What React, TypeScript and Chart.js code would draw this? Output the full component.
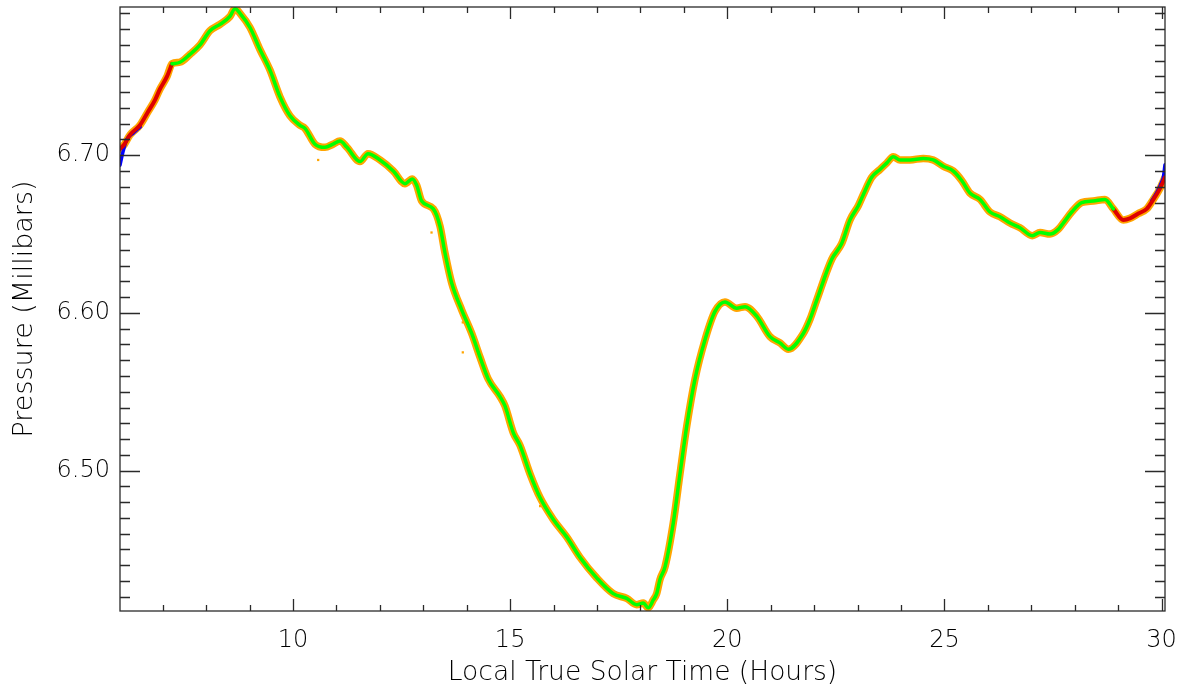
import React, { useEffect, useRef } from "react";
import { Chart, registerables } from "chart.js";

Chart.register(...registerables);

// ---- Data ----
const hours = [
  6.017, 6.12, 6.25, 6.475, 6.65, 6.822, 6.938, 7.1, 7.214, 7.398, 7.628, 7.859, 8.089, 8.319,
  8.549, 8.664, 8.78, 9.01, 9.24, 9.47, 9.701, 9.931, 10.161, 10.276, 10.507, 10.737, 10.921,
  11.082, 11.243, 11.543, 11.727, 12.003, 12.31, 12.579, 12.747, 12.848, 12.963, 13.231, 13.385,
  13.5, 13.654, 13.884, 14.115, 14.306, 14.497, 14.766, 14.881, 15.073, 15.227, 15.457, 15.687,
  15.994, 16.302, 16.608, 16.993, 17.375, 17.684, 17.914, 18.066, 18.181, 18.296, 18.374, 18.45,
  18.566, 18.757, 18.911, 19.065, 19.256, 19.487, 19.717, 19.947, 20.216, 20.408, 20.677, 20.983,
  21.213, 21.405, 21.75, 21.904, 22.058, 22.404, 22.634, 22.825, 23.016, 23.131, 23.325, 23.516,
  23.67, 23.822, 23.977, 24.207, 24.513, 24.743, 24.974, 25.204, 25.397, 25.588, 25.819, 26.049,
  26.279, 26.509, 26.74, 27.023, 27.2, 27.43, 27.621, 27.736, 27.93, 28.16, 28.427, 28.696,
  28.887, 29.118, 29.272, 29.464, 29.657, 29.81, 29.964, 30.078,
];
const pressure = [
  6.704, 6.707, 6.713, 6.719, 6.727, 6.735, 6.742, 6.75, 6.758, 6.759, 6.764, 6.77, 6.779, 6.783,
  6.788, 6.793, 6.79, 6.781, 6.767, 6.754, 6.737, 6.725, 6.719, 6.717, 6.707, 6.705, 6.707,
  6.709, 6.705, 6.696, 6.701, 6.697, 6.69, 6.682, 6.685, 6.681, 6.671, 6.666, 6.655,
  6.638, 6.619, 6.602, 6.587, 6.572, 6.558, 6.547, 6.541, 6.524, 6.516, 6.498, 6.483,
  6.469, 6.458, 6.445, 6.432, 6.422, 6.419, 6.415, 6.416, 6.413, 6.418, 6.422, 6.431,
  6.439, 6.467, 6.498, 6.528, 6.558, 6.583, 6.601, 6.607, 6.603, 6.604, 6.598, 6.585,
  6.581, 6.577, 6.587, 6.596, 6.608, 6.634, 6.644, 6.659, 6.668, 6.675, 6.686, 6.691,
  6.695, 6.699, 6.697, 6.697, 6.698, 6.697, 6.693, 6.69, 6.684, 6.676, 6.672, 6.664,
  6.661, 6.657, 6.654, 6.649, 6.651, 6.65, 6.653, 6.657, 6.664, 6.67, 6.671, 6.672,
  6.666, 6.659, 6.66, 6.663, 6.666, 6.672, 6.679, 6.686,
];
// Hours where the red (edge) portions hand over to the green trace
const greenStartHour = 7.214;
const greenEndHour = 28.887;

// Blue trace at both ends
const blueStartHours = [6.017, 6.08, 6.17, 6.32, 6.48];
const blueStartValues = [6.6937, 6.7015, 6.71, 6.714, 6.718];
const blueEndHours = [29.77, 29.9, 30.0, 30.04, 30.078];
const blueEndValues = [6.671, 6.677, 6.683, 6.686, 6.694];

// Scattered orange outliers
const outlierHours = [10.58, 13.19, 13.91, 13.91, 15.69, 12.18];
const outlierValues = [6.697, 6.651, 6.594, 6.575, 6.4775, 6.6935];

// Axes
const xMin = 6.017;
const xMax = 30.078;
const yMin = 6.411;
const yMax = 6.794;
const xMajorTicks = [10, 15, 20, 25, 30];
const xMinorTicks = [7, 8, 9, 11, 12, 13, 14, 16, 17, 18, 19, 21, 22, 23, 24, 26, 27, 28, 29];
const yMajorTicks = [6.5, 6.6, 6.7];
const yMinorTicks = [
  6.42, 6.43, 6.44, 6.45, 6.46, 6.47, 6.48, 6.49, 6.51, 6.52, 6.53, 6.54, 6.55, 6.56, 6.57,
  6.58, 6.59, 6.61, 6.62, 6.63, 6.64, 6.65, 6.66, 6.67, 6.68, 6.69, 6.71, 6.72, 6.73, 6.74,
  6.75, 6.76, 6.77, 6.78, 6.79,
];

const xTitle = "Local True Solar Time (Hours)";
const yTitle = "Pressure (Millibars)";

const FONT_FAMILY = "'DejaVu Sans', sans-serif";

const pts = (xs: number[], ys: number[]) => xs.map((x, i) => ({ x, y: ys[i] }));

const framePlugin = {
  id: "frameTicks",
  afterDraw(chart: any) {
    const { ctx, chartArea } = chart;
    const { left, right, top, bottom } = chartArea;
    const xs = chart.scales.x;
    const ys = chart.scales.y;
    ctx.save();
    ctx.strokeStyle = "#2a2a2a";
    ctx.lineWidth = 1.3;
    ctx.strokeRect(left, top, right - left, bottom - top);
    ctx.beginPath();
    const xt = (v: number, len: number) => {
      const p = Math.round(xs.getPixelForValue(v)) + 0.5;
      ctx.moveTo(p, bottom);
      ctx.lineTo(p, bottom - len);
      ctx.moveTo(p, top);
      ctx.lineTo(p, top + len);
    };
    const yt = (v: number, len: number) => {
      const p = Math.round(ys.getPixelForValue(v)) + 0.5;
      ctx.moveTo(left, p);
      ctx.lineTo(left + len, p);
      ctx.moveTo(right, p);
      ctx.lineTo(right - len, p);
    };
    xMajorTicks.forEach((v) => xt(v, 12));
    xMinorTicks.forEach((v) => xt(v, 6));
    yMajorTicks.forEach((v) => yt(v, 20));
    yMinorTicks.forEach((v) => yt(v, 10));
    ctx.stroke();
    ctx.restore();
  },
};

export default function App() {
  const canvasRef = useRef<HTMLCanvasElement | null>(null);

  useEffect(() => {
    if (!canvasRef.current) return;
    const all = pts(hours, pressure);
    const green = all.filter((p) => p.x >= greenStartHour && p.x <= greenEndHour);
    const redStart = all.filter((p) => p.x <= greenStartHour);
    const redEnd = all.filter((p) => p.x >= greenEndHour);
    const lineBase = {
      pointRadius: 0,
      fill: false,
      cubicInterpolationMode: "monotone" as const,
      borderJoinStyle: "round" as const,
      borderCapStyle: "round" as const,
    };
    const tickFont = { family: FONT_FAMILY, size: 24, weight: 200 as any };
    const xTitleFont = { family: FONT_FAMILY, size: 26.5, weight: 200 as any };
    const yTitleFont = { family: FONT_FAMILY, size: 27, weight: 200 as any };

    const chart = new Chart(canvasRef.current, {
      type: "line",
      data: {
        datasets: [
          { ...lineBase, label: "band", data: all, borderColor: "#FFA500", borderWidth: 7.5, order: 10 },
          {
            label: "outliers",
            data: pts(outlierHours, outlierValues),
            showLine: false,
            pointRadius: 1.6,
            pointStyle: "rect",
            pointBorderWidth: 0,
            backgroundColor: "#FFA500",
            borderColor: "#FFA500",
            order: 9,
          },
          { ...lineBase, label: "blue1", data: pts(blueStartHours, blueStartValues), borderColor: "#0000FF", borderWidth: 3.5, order: 4 },
          { ...lineBase, label: "blue2", data: pts(blueEndHours, blueEndValues), borderColor: "#0000FF", borderWidth: 3.5, order: 4 },
          { ...lineBase, label: "red1", data: redStart, borderColor: "#DD0000", borderWidth: 4, order: 2 },
          { ...lineBase, label: "red2", data: redEnd, borderColor: "#DD0000", borderWidth: 4, order: 2 },
          { ...lineBase, label: "green", data: green, borderColor: "#00FF00", borderWidth: 3.5, order: 1 },
        ],
      },
      options: {
        responsive: false,
        animation: false,
        devicePixelRatio: 1,
        layout: { padding: { left: 0, right: 26, top: 7, bottom: 0 } },
        plugins: { legend: { display: false }, tooltip: { enabled: false } },
        scales: {
          x: {
            type: "linear",
            min: xMin,
            max: xMax,
            afterBuildTicks: (s: any) => {
              s.ticks = xMajorTicks.map((v) => ({ value: v }));
            },
            afterFit: (s: any) => {
              s.height = 81;
              s.paddingLeft = 0;
              s.paddingRight = 0;
            },
            grid: { display: false, drawTicks: false },
            border: { display: false },
            ticks: {
              color: "#000",
              font: tickFont,
              padding: 15,
              maxRotation: 0,
              autoSkip: false,
              callback: (v: any) => String(v),
            },
            title: {
              display: true,
              text: xTitle,
              color: "#000",
              font: xTitleFont,
              padding: { top: 0, bottom: 3 },
            },
          },
          y: {
            type: "linear",
            min: yMin,
            max: yMax,
            afterBuildTicks: (s: any) => {
              s.ticks = yMajorTicks.map((v) => ({ value: v }));
            },
            afterFit: (s: any) => {
              s.width = 120;
              s.paddingTop = 0;
              s.paddingBottom = 0;
            },
            grid: { display: false, drawTicks: false },
            border: { display: false },
            ticks: {
              color: "#000",
              font: tickFont,
              padding: 10,
              autoSkip: false,
              callback: (v: any) => Number(v).toFixed(2),
            },
            title: {
              display: true,
              text: yTitle,
              color: "#000",
              font: yTitleFont,
              padding: { top: 9, bottom: 0 },
            },
          },
        },
      },
      plugins: [framePlugin],
    });
    return () => chart.destroy();
  }, []);

  return (
    <div style={{ position: "absolute", left: 0, top: 0, width: 1191, height: 692, background: "#fff" }}>
      <canvas ref={canvasRef} width={1191} height={692} style={{ width: 1191, height: 692, display: "block" }} />
    </div>
  );
}
